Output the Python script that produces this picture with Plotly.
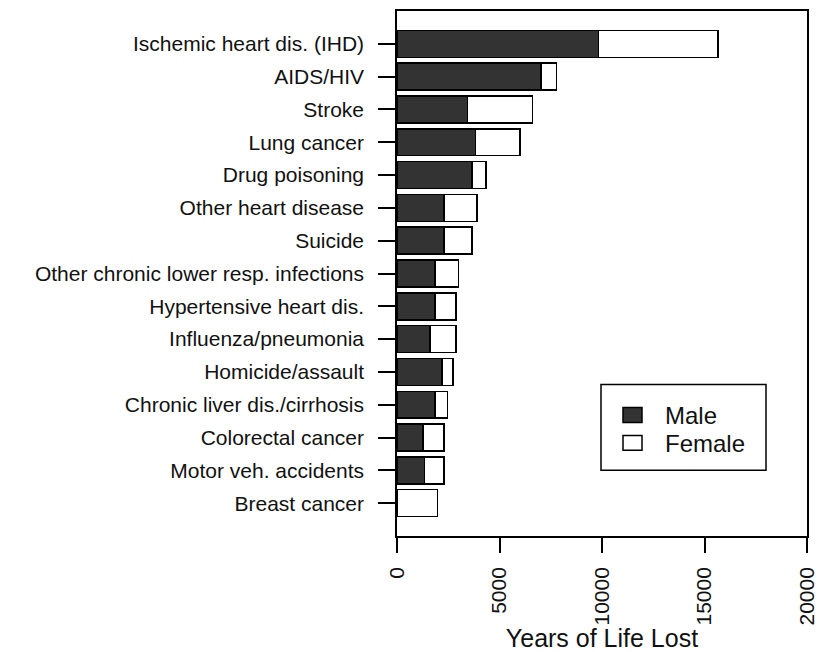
import plotly.graph_objects as go

# ===== DATA =====
causes = [
    'Ischemic heart dis. (IHD)', 'AIDS/HIV', 'Stroke', 'Lung cancer', 'Drug poisoning',
    'Other heart disease', 'Suicide', 'Other chronic lower resp. infections',
    'Hypertensive heart dis.', 'Influenza/pneumonia', 'Homicide/assault',
    'Chronic liver dis./cirrhosis', 'Colorectal cancer', 'Motor veh. accidents', 'Breast cancer',
]
male_yll = [9820, 7030, 3450, 3830, 3650, 2300, 2300, 1860, 1860, 1610, 2200, 1860, 1270, 1350, 0]
female_yll = [5830, 740, 3160, 2180, 680, 1610, 1360, 1140, 1020, 1270, 520, 600, 1030, 950, 1970]
x_ticks = [0, 5000, 10000, 15000, 20000]

# ===== STYLE =====
MALE_COLOR = '#333333'
FEMALE_COLOR = 'white'
FONT = 'Liberation Sans, Arial, sans-serif'

# page body has an 8px margin, so the figure is drawn 8px smaller and offset
W, H = 822, 644
L, R, T, B = 389, 23, 1, 116
PW, PH = W - L - R, H - T - B
OFF = 8


def px_x(x):
    # screen pixel -> paper coordinate
    return (x - OFF - L) / PW


def px_y(y):
    return (H - B - (y - OFF)) / PH


fig = go.Figure()
fig.add_trace(go.Bar(y=causes, x=male_yll, name='Male', orientation='h', width=0.82,
                     marker=dict(color=MALE_COLOR, line=dict(color='black', width=1.5))))
fig.add_trace(go.Bar(y=causes, x=female_yll, name='Female', orientation='h', width=0.82,
                     marker=dict(color=FEMALE_COLOR, line=dict(color='black', width=1.5))))

fig.update_layout(
    barmode='stack', width=W, height=H, showlegend=False,
    paper_bgcolor='white', plot_bgcolor='white',
    font=dict(family=FONT, size=21, color='#111111'),
    margin=dict(l=L, r=R, t=T, b=B),
)
fig.update_xaxes(
    range=[0, 20000], tickvals=x_ticks, ticktext=[str(v) for v in x_ticks],
    tickangle=-90, ticks='outside', ticklen=15, tickwidth=1.5, tickcolor='black',
    ticklabelstandoff=6, showgrid=False, zeroline=False,
    showline=True, linecolor='black', linewidth=1.5, mirror=True,
    title=dict(text='Years of Life Lost', font=dict(size=25), standoff=8),
)
fig.update_yaxes(
    range=[len(causes), -1], type='category',
    ticks='outside', ticklen=17, tickwidth=1.5, tickcolor='black',
    ticklabelstandoff=10, showgrid=False, zeroline=False,
    showline=True, linecolor='black', linewidth=1.5, mirror=True,
)

# ===== LEGEND (drawn box to match the original's large keys) =====
fig.add_shape(type='rect', xref='paper', yref='paper',
              x0=px_x(601), x1=px_x(766), y0=px_y(470), y1=px_y(384),
              line=dict(color='black', width=1.5), fillcolor='white')
for name, color, y0 in [('Male', MALE_COLOR, 407), ('Female', FEMALE_COLOR, 435)]:
    fig.add_shape(type='rect', xref='paper', yref='paper',
                  x0=px_x(623), x1=px_x(642), y0=px_y(y0 + 15), y1=px_y(y0),
                  line=dict(color='black', width=1.5), fillcolor=color)
    fig.add_annotation(text=name, xref='paper', yref='paper', showarrow=False,
                       x=px_x(663), y=px_y(y0 + 8), xanchor='left', yanchor='middle',
                       font=dict(size=24))

fig.write_html('out.html')
